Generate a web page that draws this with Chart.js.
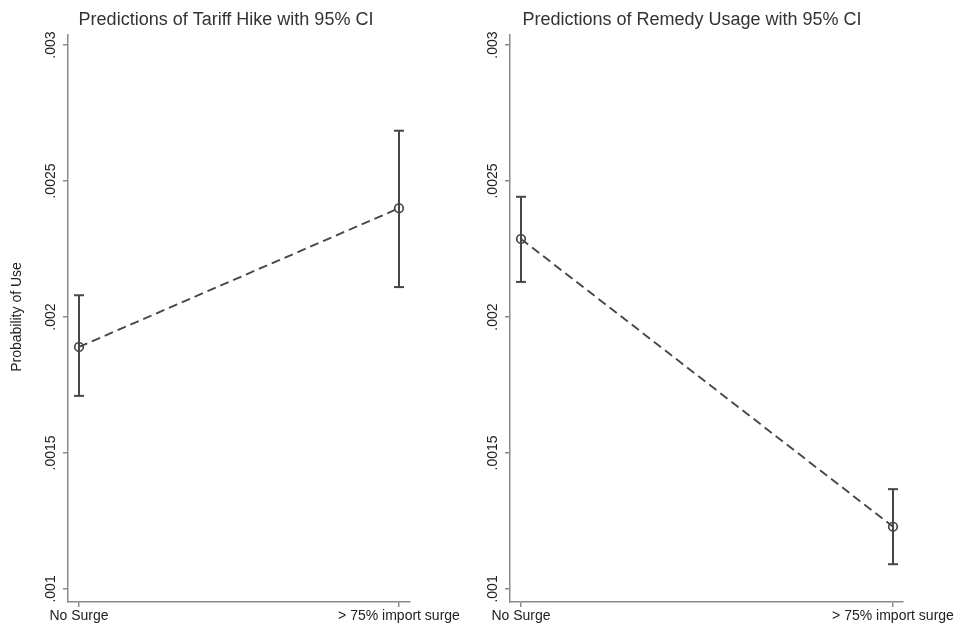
<!DOCTYPE html>
<html><head><meta charset="utf-8">
<script src="https://cdn.jsdelivr.net/npm/chart.js@4.4.0/dist/chart.umd.min.js"></script>
<style>
html,body{margin:0;padding:0;background:#fff;}
#wrap{position:relative;width:960px;height:626px;background:#fff;}
canvas{position:absolute;top:0;}
</style></head><body>
<div id="wrap">
<canvas id="c1" style="left:0;width:480px;height:626px"></canvas>
<canvas id="c2" style="left:480px;width:480px;height:626px"></canvas>
</div>
<script>
const categories = ['No Surge', '> 75% import surge'];
const yTicks = [0.001, 0.0015, 0.002, 0.0025, 0.003];
const yTickLabels = ['.001', '.0015', '.002', '.0025', '.003'];
const tariffMean = [0.00189, 0.00240];
const tariffLow = [0.00171, 0.00211];
const tariffHigh = [0.00208, 0.002685];
const remedyMean = [0.002287, 0.001229];
const remedyLow = [0.002129, 0.001091];
const remedyHigh = [0.002442, 0.001367];
const titles = ['Predictions of Tariff Hike with 95% CI', 'Predictions of Remedy Usage with 95% CI'];
const yAxisTitle = 'Probability of Use';

const FONT = '"Liberation Sans", Arial, Helvetica, sans-serif';
const AXIS = '#8a8a8a';
const MARK = '#474747';

function makeChart(id, mean, low, high, title, o) {
  const datasets = [];
  categories.forEach((c, i) => {
    datasets.push({
      data: [{x: i, y: low[i]}, {x: i, y: high[i]}],
      borderColor: MARK, borderWidth: 2,
      pointStyle: 'line', pointRadius: 5, pointBorderWidth: 2,
      pointBorderColor: MARK, pointBackgroundColor: MARK,
      pointHoverRadius: 5
    });
  });
  datasets.push({
    data: mean.map((v, i) => ({x: i, y: v})),
    borderColor: MARK, borderWidth: 1.9, borderDash: [9, 5],
    pointStyle: 'circle', pointRadius: 4.3, pointBorderWidth: 1.7,
    pointBorderColor: MARK, pointBackgroundColor: 'rgba(255,255,255,0)',
    pointHoverRadius: 4.3
  });
  const labelsPlugin = {
    id: 'labels' + id,
    afterDraw(chart) {
      const ctx = chart.ctx;
      const ys = chart.scales.y;
      ctx.save();
      ctx.fillStyle = '#222';
      ctx.font = '14px ' + FONT;
      ctx.textAlign = 'center';
      ctx.textBaseline = 'middle';
      yTicks.forEach((v, k) => {
        const py = ys.getPixelForValue(v);
        ctx.save();
        ctx.translate(ys.right - 17, py);
        ctx.rotate(-Math.PI / 2);
        ctx.fillText(yTickLabels[k], 0, 0);
        ctx.restore();
      });
      ctx.fillStyle = '#333';
      ctx.font = '18px ' + FONT;
      ctx.textBaseline = 'alphabetic';
      ctx.fillText(title, o.titleX, 25);
      if (o.showYTitle) {
        ctx.fillStyle = '#222';
        ctx.font = '14px ' + FONT;
        ctx.textBaseline = 'middle';
        ctx.translate(17, 317);
        ctx.rotate(-Math.PI / 2);
        ctx.fillText(yAxisTitle, 0, 0);
      }
      ctx.restore();
    }
  };
  return new Chart(document.getElementById(id), {
    type: 'line',
    data: {datasets},
    options: {
      responsive: false, animation: false,
      devicePixelRatio: 1,
      layout: {padding: {left: o.padL, right: o.padR, top: 35, bottom: 0}},
      plugins: {legend: {display: false}, tooltip: {enabled: false}, title: {display: false}},
      elements: {line: {tension: 0}},
      scales: {
        x: {
          type: 'linear', min: o.xMin, max: o.xMax,
          afterBuildTicks: s => { s.ticks = categories.map((c, i) => ({value: i})); },
          afterFit: s => { s.height = 24; },
          ticks: {
            callback: v => categories[v], autoSkip: false, maxRotation: 0, minRotation: 0,
            font: {family: FONT, size: 14}, color: '#222', padding: 1
          },
          grid: {display: true, drawOnChartArea: false, drawTicks: true, tickLength: 5, color: AXIS, lineWidth: 1.5},
          border: {display: true, color: AXIS, width: 1.5}
        },
        y: {
          type: 'linear', min: 0.000952, max: 0.003037,
          afterBuildTicks: s => { s.ticks = yTicks.map(v => ({value: v})); },
          afterFit: s => { s.width = 20; },
          ticks: {display: false},
          grid: {display: true, drawOnChartArea: false, drawTicks: true, tickLength: 5, color: AXIS, lineWidth: 1.5},
          border: {display: true, color: AXIS, width: 1.5}
        }
      }
    },
    plugins: [labelsPlugin]
  });
}

document.getElementById('c1').width = 480; document.getElementById('c1').height = 626;
document.getElementById('c2').width = 480; document.getElementById('c2').height = 626;

makeChart('c1', tariffMean, tariffLow, tariffHigh, titles[0],
  {padL: 48, padR: 70, xMin: -0.0344, xMax: 1.0344, titleX: 226, showYTitle: true});
makeChart('c2', remedyMean, remedyLow, remedyHigh, titles[1],
  {padL: 10, padR: 57, xMin: -0.0296, xMax: 1.0269, titleX: 212, showYTitle: false});
</script>
</body></html>
